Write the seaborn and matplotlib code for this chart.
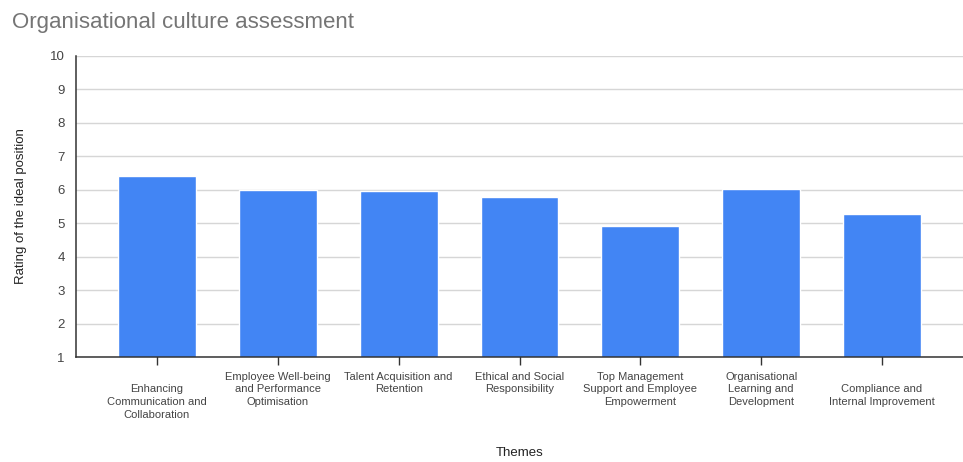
import matplotlib
matplotlib.use("Agg")
import matplotlib.pyplot as plt
import pandas as pd
import seaborn as sns

# data
themes = [
    "\nEnhancing\nCommunication and\nCollaboration",
    "Employee Well-being\nand Performance\nOptimisation",
    "Talent Acquisition and\nRetention",
    "Ethical and Social\nResponsibility",
    "Top Management\nSupport and Employee\nEmpowerment",
    "Organisational\nLearning and\nDevelopment",
    "\nCompliance and\nInternal Improvement",
]
ratings = [6.41, 6.00, 5.97, 5.77, 4.91, 6.03, 5.29]
y_ticks = list(range(1, 11))

sns.set_theme(style="white")
plt.rcParams['font.family'] = ['Liberation Sans', 'DejaVu Sans']

df = pd.DataFrame({"theme": themes, "rating": ratings})

fig = plt.figure(figsize=(9.63, 4.62), dpi=100)
ax = fig.add_axes([76 / 963, 1 - 357 / 462, 1 - 76 / 963, (357 - 56) / 462])

sns.barplot(data=df, x="theme", y="rating", color="#4285F4", saturation=1,
            width=0.645, ax=ax, zorder=2)

ax.set_ylim(1, 10)
ax.set_xlim(-0.67, 6.67)
ax.set_yticks(y_ticks)
ax.set_yticklabels([str(t) for t in y_ticks])

# grid
ax.grid(which="major", axis="y", color="#d6d6d6", linewidth=1)
ax.set_axisbelow(True)

for side in ["top", "right"]:
    ax.spines[side].set_visible(False)
for side in ["left", "bottom"]:
    ax.spines[side].set_color("#333333")
    ax.spines[side].set_linewidth(1.1)
    ax.spines[side].set_zorder(3)

ax.tick_params(axis="y", left=False, length=0, pad=8, labelsize=9.5, labelcolor="#444444")
ax.tick_params(axis="x", bottom=True, direction="inout", length=11, width=1,
               color="#333333", pad=5, labelsize=8, labelcolor="#444444")
ax.set_xticks(range(len(themes)))
ax.set_xticklabels(themes, linespacing=1.35, ha="center")

ax.set_xlabel("Themes", fontsize=9.5, color="#222222")
ax.xaxis.set_label_coords(0.5, -0.30)
ax.set_ylabel("Rating of the ideal position", fontsize=9.5, color="#222222")
ax.yaxis.set_label_coords(-0.055, 0.5)

fig.text(12 / 963, 1 - 28 / 462, "Organisational culture assessment",
         fontsize=16, color="#757575", va="baseline", ha="left")

fig.savefig("out.png", dpi=100)
